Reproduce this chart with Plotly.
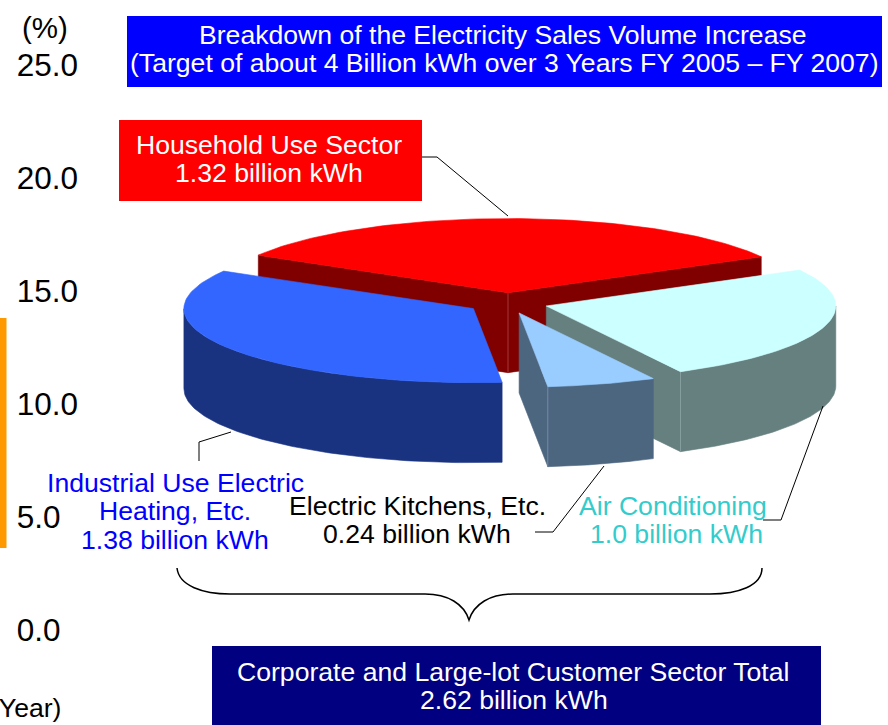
import math
import plotly.graph_objects as go

# ---- data ----
sector_names = ["Household Use Sector", "Air Conditioning", "Electric Kitchens, Etc.", "Industrial Use Electric Heating, Etc."]
sector_values = [1.32, 1.0, 0.24, 1.38]
top_colors = ["#FF0000", "#CCFFFF", "#99CCFF", "#3366FF"]
side_colors = ["#800000", "#668080", "#4D6680", "#1A3380"]
edge_colors = ["#A84848", "#8CA3A3", "#7A92AD", "#3A53A0"]

y_ticks = [0, 5, 10, 15, 20, 25]
y_tick_labels = ["0.0\u2007", "5.0\u2007", "10.0", "15.0", "20.0", "25.0"]
bar_x = [0]
bar_base = [3.63]
bar_height = [10.17]

# ---- pie projection ----
CX, CY = 507.5, 303
RX, TILT = 289.5, 0.256
DEPTH = 80
EXPLODE = 40.5
START_DEG = -59.6


def project(ox, oy, deg, r=RX):
    t = math.radians(deg)
    return ox + r * math.sin(t), oy - r * TILT * math.cos(t)


def arc(ox, oy, a, b, dy=0, n=90):
    pts = [project(ox, oy, a + (b - a) * i / n) for i in range(n + 1)]
    return [(x, y + dy) for x, y in pts]


fig = go.Figure()


def poly(pts, color, edge=None):
    xs = [p[0] for p in pts] + [pts[0][0]]
    ys = [p[1] for p in pts] + [pts[0][1]]
    fig.add_trace(go.Scatter(x=xs, y=ys, mode="lines", fill="toself", fillcolor=color,
                             line=dict(color=edge or color, width=0.6), hoverinfo="skip", showlegend=False))


total = sum(sector_values)
slices = []
a = START_DEG
for i, v in enumerate(sector_values):
    b = a + v / total * 360
    mid = math.radians((a + b) / 2)
    ox = CX + EXPLODE * math.sin(mid)
    oy = CY - EXPLODE * TILT * math.cos(mid)
    slices.append((i, a, b, ox, oy))
    a = b

# paint back to front: household, industrial, air conditioning, kitchens
for i, a, b, ox, oy in [slices[0], slices[3], slices[1], slices[2]]:
    top, side, edge = top_colors[i], side_colors[i], edge_colors[i]
    pa, pb = project(ox, oy, a), project(ox, oy, b)
    apex = (ox, oy)
    down = lambda p: (p[0], p[1] + DEPTH)
    # cut faces looking at the viewer
    if i == 0:
        poly([pa, apex, down(apex), down(pa)], side)
        poly([pb, apex, down(apex), down(pb)], side)
        fig.add_trace(go.Scatter(x=[apex[0], apex[0]], y=[apex[1], apex[1] + DEPTH], mode="lines",
                                 line=dict(color=edge, width=0.8), hoverinfo="skip", showlegend=False))
    if i == 1:
        poly([apex, pb, down(pb), down(apex)], side)
    if i == 2:
        poly([apex, pb, down(pb), down(apex)], side)
    # outer rim, front half only
    lo, hi = max(a, 90), min(b, 270)
    if hi > lo:
        poly(arc(ox, oy, lo, hi) + arc(ox, oy, hi, lo, DEPTH), side)
    if i in (1, 2):
        fig.add_trace(go.Scatter(x=[pb[0], pb[0]], y=[pb[1], pb[1] + DEPTH], mode="lines",
                                 line=dict(color=edge, width=0.8), hoverinfo="skip", showlegend=False))
    # top surface
    poly([apex] + arc(ox, oy, a, b), top)

# orange column of the background chart
fig.add_trace(go.Bar(x=bar_x, y=bar_height, base=bar_base, width=13, marker=dict(color="#FF9900", line=dict(width=0)),
                     xaxis="x", yaxis="y2", hoverinfo="skip", showlegend=False))


def box(x0, y0, x1, y1, color):
    fig.add_shape(type="rect", x0=x0, y0=y0, x1=x1, y1=y1, xref="x", yref="y",
                  fillcolor=color, line=dict(width=0), layer="below")


def leader(pts):
    path = "M " + " L ".join(f"{x},{y}" for x, y in pts)
    fig.add_shape(type="path", path=path, xref="x", yref="y", line=dict(color="#000000", width=1))


box(127, 16, 882, 87, "#0000FF")
box(119, 120, 422, 201, "#FF0000")
box(212, 646, 821, 725, "#000080")

leader([(422, 157), (437, 157), (508, 216)])
leader([(199, 461), (199, 442), (231, 432)])
leader([(535, 532), (553, 532), (604, 466)])
leader([(763, 520), (781, 520), (823, 406)])

fig.add_shape(type="path", xref="x", yref="y", line=dict(color="#000000", width=1.5),
              path="M 177,568 C 179,586 203,594 230,594 L 425,594 C 448,594 464,604 469,620 "
                   "C 474,604 490,594 513,594 L 710,594 C 738,594 762,586 762,568")

FONT = "Liberation Sans, Arial, sans-serif"
S = 26.6
labels = [
    ("Breakdown of the Electricity Sales Volume Increase", 503, 35, "#FFFFFF", S),
    ("(Target of about 4 Billion kWh over 3 Years FY 2005 – FY 2007)", 504, 63, "#FFFFFF", S),
    ("Household Use Sector", 269, 145, "#FFFFFF", S),
    ("1.32 billion kWh", 269, 173, "#FFFFFF", S),
    ("Industrial Use Electric", 175, 483, "#0000FF", S),
    ("Heating, Etc.", 175, 511, "#0000FF", S),
    ("1.38 billion kWh", 175, 540, "#0000FF", S),
    ("Electric Kitchens, Etc.", 417, 506, "#000000", S),
    ("0.24 billion kWh", 417, 534, "#000000", S),
    ("Air Conditioning", 673, 506, "#33CCCC", S),
    ("1.0 billion kWh", 676, 534, "#33CCCC", S),
    ("Corporate and Large-lot Customer Sector Total", 513, 672, "#FFFFFF", S),
    ("2.62 billion kWh", 514, 700, "#FFFFFF", S),
    ("(%)", 45, 27, "#000000", 29.5),
]
for text, x, y, c, size in labels:
    fig.add_annotation(text=text, x=x, y=y, xref="x", yref="y", showarrow=False, xanchor="center", yanchor="middle",
                       font=dict(family=FONT, size=size, color=c))
fig.add_annotation(text="(Year)", x=62.5, y=708, xref="x", yref="y", showarrow=False, xanchor="right", yanchor="middle",
                   font=dict(family=FONT, size=S, color="#000000"))

fig.update_layout(
    width=888, height=725, autosize=False,
    margin=dict(l=0, r=0, t=0, b=0, pad=0, autoexpand=False), showlegend=False,
    paper_bgcolor="#FFFFFF", plot_bgcolor="rgba(0,0,0,0)", barmode="overlay",
    xaxis=dict(range=[0, 888], domain=[0, 1], visible=False, fixedrange=True),
    yaxis=dict(range=[725, 0], domain=[0, 1], visible=False, fixedrange=True),
    yaxis2=dict(range=[0, 25], domain=[1 - 630 / 725, 1 - 65 / 725], anchor="free", position=78 / 888,
                tickmode="array", tickvals=y_ticks, ticktext=y_tick_labels, showgrid=False, zeroline=False,
                showline=False, ticks="", tickfont=dict(family=FONT, size=31.5, color="#000000"), fixedrange=True),
)
fig.write_html("out.html", config={"displayModeBar": False},
               post_script="document.body.style.margin='0';document.body.style.overflow='hidden';")
